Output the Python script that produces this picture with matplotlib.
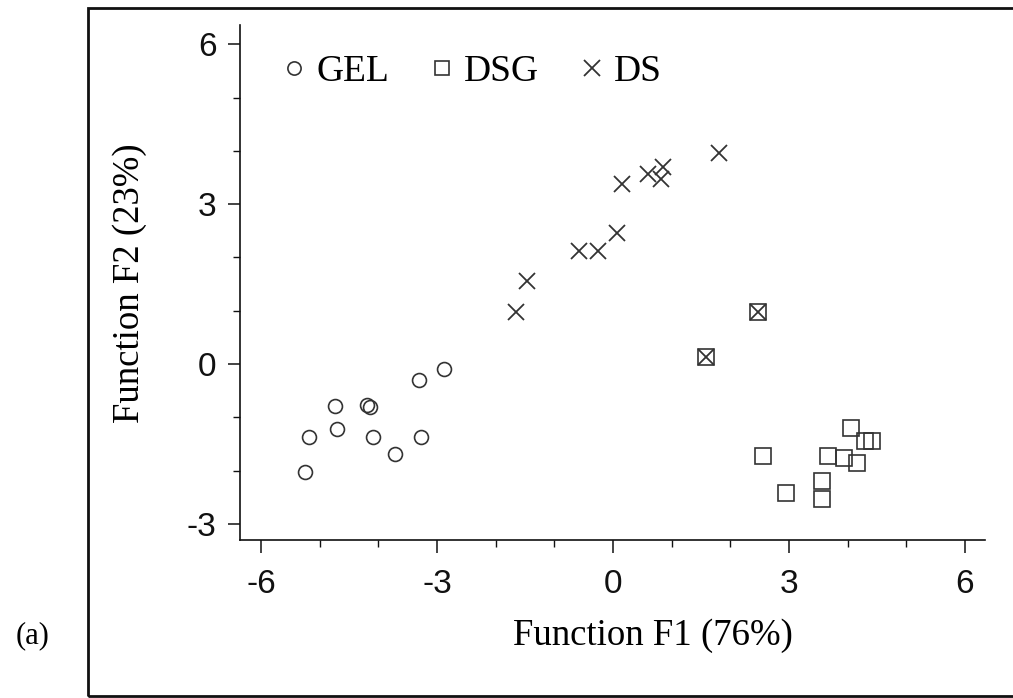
"""Discriminant function scores for GEL, DSG and DS samples."""

import matplotlib

matplotlib.use("Agg")
import matplotlib.pyplot as plt
from matplotlib.patches import Rectangle

plt.rcParams["axes.unicode_minus"] = False

# GEL group (circles)
gel_f1 = [-2.88, -3.31, -4.74, -4.19, -4.14, -4.71, -5.19, -4.09, -3.28, -3.71, -5.25]
gel_f2 = [-0.10, -0.30, -0.78, -0.77, -0.81, -1.22, -1.37, -1.37, -1.37, -1.68, -2.02]

# DSG group (squares)
dsg_f1 = [4.06, 4.29, 4.41, 2.55, 3.66, 3.93, 4.15, 3.56, 2.94, 3.56, 2.47, 1.58]
dsg_f2 = [-1.20, -1.44, -1.44, -1.73, -1.73, -1.77, -1.86, -2.19, -2.41, -2.53, 0.97, 0.13]

# DS group (crosses)
ds_f1 = [1.80, 0.16, 0.60, 0.85, 0.82, 0.06, -0.58, -0.25, -1.46, -1.66, 2.47, 1.58]
ds_f2 = [3.95, 3.38, 3.57, 3.69, 3.47, 2.45, 2.13, 2.13, 1.55, 0.98, 0.97, 0.13]

x_ticks = [-6, -3, 0, 3, 6]
x_minor = [-5, -4, -2, -1, 1, 2, 4, 5]
y_ticks = [-3, 0, 3, 6]
y_minor = [-2, -1, 1, 2, 4, 5]

INK = "#333333"
SERIF = ["Liberation Serif", "DejaVu Serif"]
SANS = ["Liberation Sans", "DejaVu Sans"]

fig = plt.figure(figsize=(10.13, 6.98), dpi=100)

# outer frame of the panel
fig.patches.append(
    Rectangle((88 / 1013, 2 / 698), 1.0, 688 / 698, transform=fig.transFigure,
              fill=False, edgecolor="#111111", linewidth=2.0)
)
fig.text(33 / 1013, 1 - 636 / 698, "(a)", family=SERIF, fontsize=22,
         ha="center", va="center")

ax = fig.add_axes([240 / 1013, 1 - 540 / 698, 745 / 1013, 515 / 698])

ax.plot(gel_f1, gel_f2, linestyle="none", marker="o", markersize=10,
        markerfacecolor="none", markeredgecolor=INK, markeredgewidth=1.2,
        label="GEL")
ax.plot(dsg_f1, dsg_f2, linestyle="none", marker="s", markersize=11,
        markerfacecolor="none", markeredgecolor=INK, markeredgewidth=1.2,
        label="DSG")
ax.plot(ds_f1, ds_f2, linestyle="none", marker="x", markersize=12,
        markeredgecolor=INK, markeredgewidth=1.3, label="DS")

ax.set_xlim(-6.36, 6.34)
ax.set_ylim(-3.3, 6.36)
ax.set_xticks(x_ticks)
ax.set_yticks(y_ticks)
ax.set_xticks(x_minor, minor=True)
ax.set_yticks(y_minor, minor=True)

for side in ("top", "right"):
    ax.spines[side].set_visible(False)
for side in ("left", "bottom"):
    ax.spines[side].set_linewidth(1.2)
    ax.spines[side].set_color("#111111")

ax.tick_params(which="major", direction="out", length=9, width=1.1,
               colors="#111111", labelsize=24, pad=8)
ax.tick_params(axis="x", which="major", pad=12)
ax.tick_params(which="minor", direction="out", length=5, width=1.0,
               colors="#111111")
for label in ax.get_xticklabels() + ax.get_yticklabels():
    label.set_family(SANS)

ax.set_xlabel("Function F1 (76%)", family=SERIF, fontsize=26.5)
ax.set_ylabel("Function F2 (23%)", family=SERIF, fontsize=26.5)
ax.xaxis.set_label_coords((653 - 240) / 745, -(618 - 540) / 515)
ax.yaxis.set_label_coords(-(240 - 147) / 745, (540 - 283) / 515)

ax.legend(loc="upper left", ncol=3, frameon=False,
          bbox_to_anchor=(0.012, 1.008), markerscale=0.95,
          handlelength=0.6, handletextpad=0.3, columnspacing=1.1,
          prop={"family": SERIF, "size": 27})

fig.savefig("out.png", dpi=100)
